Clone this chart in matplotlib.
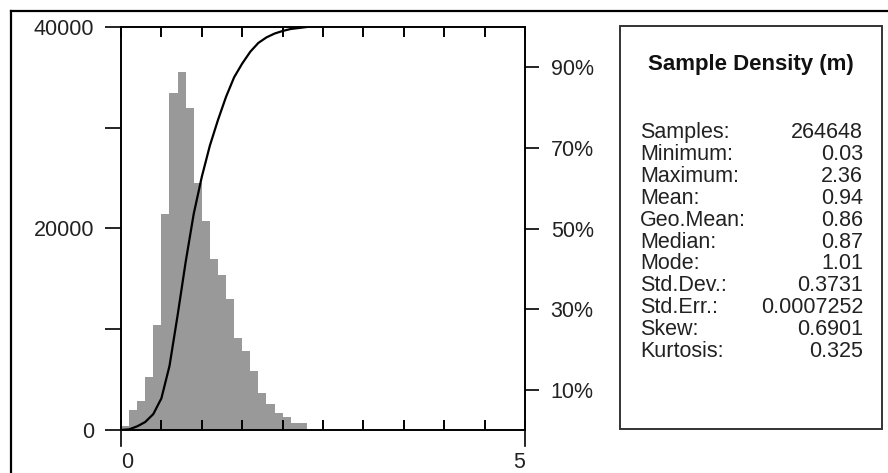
import numpy as np
import matplotlib
matplotlib.use("Agg")
from matplotlib import pyplot as plt
from matplotlib.lines import Line2D
from matplotlib.patches import Rectangle

plt.rcParams['font.family'] = ['Liberation Sans', 'DejaVu Sans']

# histogram of sample density, bins 0.1 wide starting at 0
bin_lefts = [0.0, 0.1, 0.2, 0.3, 0.4, 0.5, 0.6, 0.7, 0.8, 0.9, 1.0, 1.1,
             1.2, 1.3, 1.4, 1.5, 1.6, 1.7, 1.8, 1.9, 2.0, 2.1, 2.2]
bin_width = 0.1
counts = [430, 1990, 2880, 5290, 10420, 21440, 33420, 35530, 31990, 24550,
          20750, 16940, 15390, 12970, 9100, 7840, 5860, 3640, 2550, 1720,
          1320, 660, 660]

y_ticks = [0, 10000, 20000, 30000, 40000]
y_labels = ['0', '', '20000', '', '40000']
pct_ticks = [10, 30, 50, 70, 90]

stat_names = ['Samples:', 'Minimum:', 'Maximum:', 'Mean:', 'Geo.Mean:', 'Median:',
              'Mode:', 'Std.Dev.:', 'Std.Err.:', 'Skew:', 'Kurtosis:']
stat_values = ['264648', '0.03', '2.36', '0.94', '0.86', '0.87', '1.01',
               '0.3731', '0.0007252', '0.6901', '0.325']

W, H = 888, 473
def fx(x):
    return x / W
def fy(y):
    return 1 - y / H

fig = plt.figure(figsize=(W / 100, H / 100), dpi=100)

ax = fig.add_axes([fx(121), fy(430), fx(525) - fx(121), fy(27) - fy(430)])
ax.bar(bin_lefts, counts, width=bin_width, align='edge', color='#999999', linewidth=0)
ax.set_xlim(0, 5)
ax.set_ylim(0, 40000)

ax.set_xticks(np.arange(0, 5.01, 0.5))
ax.set_xticklabels(['0'] + [''] * 9 + ['5'])
xl = ax.get_xticklabels()
xl[0].set_ha('left')
xl[-1].set_ha('right')
ax.tick_params(axis='x', direction='in', top=True, bottom=True, length=7,
               width=1.4, pad=15.5, labelsize=15.5, labelcolor='#222222')
ax.set_yticks(y_ticks)
ax.set_yticklabels(y_labels)
ax.tick_params(axis='y', direction='out', length=11.5, width=1.2, pad=8,
               labelsize=15.5, labelcolor='#222222')
for s in ax.spines.values():
    s.set_linewidth(1.2)

# cumulative curve on the percentage axis
edges = np.array(bin_lefts + [bin_lefts[-1] + bin_width])
cum = np.concatenate([[0], np.cumsum(counts)]) / np.sum(counts) * 100

ax2 = ax.twinx()
ax2.plot(edges, cum, color='black', lw=1.6)
ax2.set_ylim(0, 100)
ax2.set_yticks(pct_ticks)
ax2.set_yticklabels([f'{p}%' for p in pct_ticks])
ax2.tick_params(axis='y', direction='out', length=10, width=1.2, pad=8.5,
                labelsize=15.5, labelcolor='#222222')
for s in ax2.spines.values():
    s.set_linewidth(1.2)

# spines reach a little below the zero line
for xa in (0, 1):
    ax.plot([xa, xa], [0, -0.04], transform=ax.transAxes, color='black',
            lw=1.2, clip_on=False)

# outer frame (top and left edge only)
fig.add_artist(Line2D([fx(11), fx(11)], [fy(11), 0], color='black', lw=1.6))
fig.add_artist(Line2D([fx(11), 1], [fy(11), fy(11)], color='black', lw=1.6))

# statistics box
fig.add_artist(Rectangle((fx(620), fy(429)), fx(882) - fx(620), fy(26) - fy(429),
                         fill=False, edgecolor='#333333', lw=1.4))
fig.text(fx(751), fy(70), 'Sample Density (m)', ha='center', va='baseline',
         fontsize=16, fontweight='bold', color='#111111')
for i, (n, v) in enumerate(zip(stat_names, stat_values)):
    yb = 138.3 + i * 21.84
    fig.text(fx(640), fy(yb), n, ha='left', va='baseline', fontsize=15.5, color='#222222')
    fig.text(fx(863), fy(yb), v, ha='right', va='baseline', fontsize=15.5, color='#222222')

fig.savefig('out.png', dpi=100)
